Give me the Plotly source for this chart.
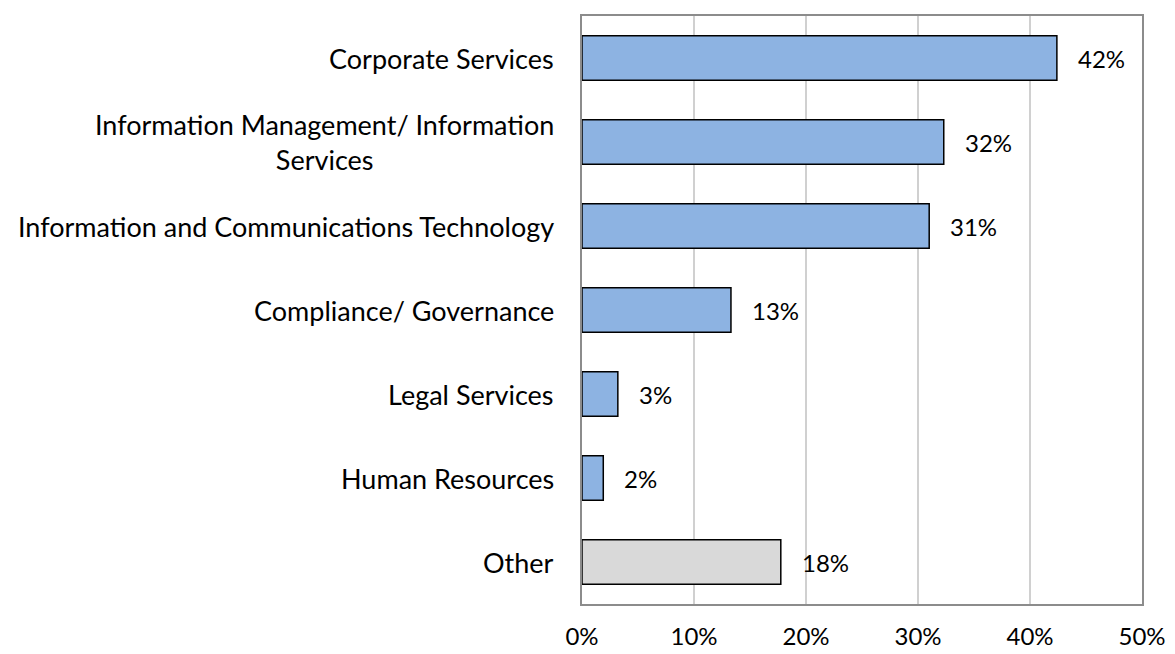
import plotly.graph_objects as go

categories = ["Corporate Services", "Information Management/ Information<br>Services",
              "Information and Communications Technology", "Compliance/ Governance",
              "Legal Services", "Human Resources", "Other"]
values = [0.424, 0.323, 0.310, 0.133, 0.032, 0.019, 0.1775]
colors = ["#8db3e2"] * 6 + ["#d9d9d9"]
x_ticks = [0, 0.1, 0.2, 0.3, 0.4, 0.5]

font = "Lato, 'Open Sans', sans-serif"

fig = go.Figure(go.Bar(
    x=values, y=categories, orientation="h",
    marker=dict(color=colors, line=dict(color="black", width=1.5)),
    hoverinfo="x+y",
))

# value labels sit a little to the right of each bar end
annotations = [dict(x=v, y=c, text=f"{v:.0%}", xanchor="left", xshift=19,
                    showarrow=False, font=dict(size=24, color="black", family=font))
               for c, v in zip(categories, values)]
# category labels, centred multi-line like the Excel original
annotations += [dict(x=0, xref="paper", y=c, text=c, xanchor="right", xshift=-26,
                     align="center", showarrow=False,
                     font=dict(size=27, color="black", family=font))
                for c in categories]

# page body has an 8px margin, so the figure is a bit smaller than the window
fig.update_layout(
    width=1167, height=646,
    margin=dict(l=574, r=33, t=8, b=50, autoexpand=False),
    paper_bgcolor="white", plot_bgcolor="white",
    bargap=0.47, showlegend=False,
    font=dict(family=font, size=25, color="black"),
    annotations=annotations,
    xaxis=dict(range=[0, 0.5], tickvals=x_ticks, tickformat=".0%",
               showgrid=True, gridcolor="#d0d0d0", gridwidth=1.5,
               showline=True, linecolor="#8c8c8c", linewidth=2, mirror=True,
               zeroline=False, ticks="", ticklabelstandoff=10, automargin=False,
               ticklabeloverflow="allow", tickfont=dict(size=24, family=font)),
    yaxis=dict(categoryorder="array", categoryarray=categories[::-1],
               showticklabels=False, showgrid=False, automargin=False,
               showline=True, linecolor="#8c8c8c", linewidth=2, mirror=True),
)

fig.write_html("out.html")
